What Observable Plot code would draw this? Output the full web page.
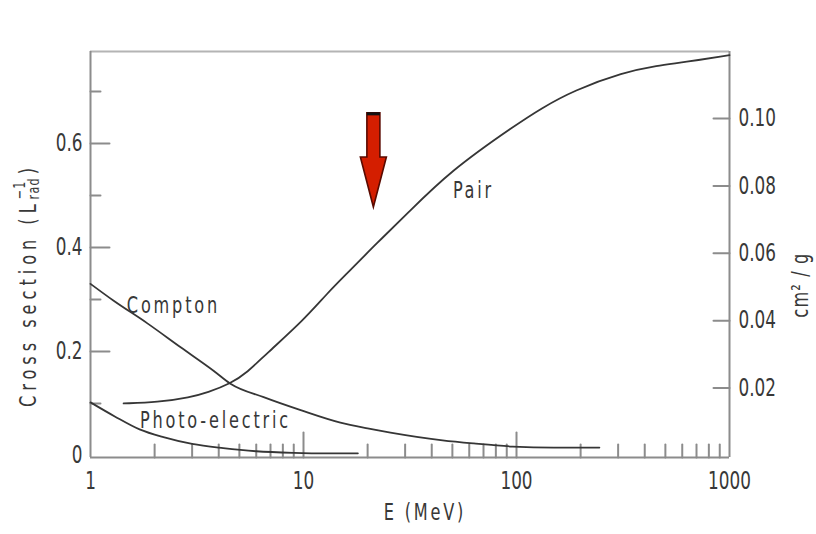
<!DOCTYPE html>
<html>
<head>
<meta charset="utf-8">
<script src="https://cdn.jsdelivr.net/npm/d3@7"></script>
<script src="https://cdn.jsdelivr.net/npm/@observablehq/plot@0.6"></script>
<style>
  html, body { margin: 0; padding: 0; background: #fff; }
</style>
</head>
<body>
<div id="chart"></div>
<script>
// ---- data ----
const pairE   = [1.43, 2.06, 2.95, 3.54, 4.54, 5.46, 6.63, 10, 13, 16.1, 22.3, 30, 49, 101, 130, 185, 318, 459, 608, 1000];
const pairV   = [0.100, 0.102, 0.112, 0.121, 0.138, 0.160, 0.194, 0.260, 0.313, 0.351, 0.410, 0.461, 0.548, 0.638, 0.667, 0.702, 0.737, 0.750, 0.756, 0.770];
const comptonE = [1, 1.28, 1.85, 2.65, 3.78, 4.54, 6.5, 9.7, 14.9, 20, 25.6, 45, 63, 96, 150, 245];
const comptonV = [0.330, 0.298, 0.254, 0.208, 0.163, 0.138, 0.112, 0.087, 0.063, 0.052, 0.044, 0.029, 0.023, 0.017, 0.015, 0.015];
const photoE = [1, 1.3, 1.7, 2.2, 3, 4.2, 6, 9, 13, 18];
const photoV = [0.102, 0.075, 0.050, 0.035, 0.022, 0.014, 0.008, 0.005, 0.004, 0.004];

const curveNames = ["Pair", "Compton", "Photo-electric"];
const labelE = [62.8, 2.45, 3.86];
const labelV = [0.51, 0.288, 0.067];

const xTitle = "E (MeV)";
const rightTitle = "cm\u00B2 / g";

const xDomain = [1, 1000];
const xTickLabels = [1, 10, 100, 1000];
const xMajorTicks = [10, 100];
const xMinorTicks = [2,3,4,5,6,7,8,9, 20,30,40,50,60,70,80,90, 200,300,400,500,600,700,800,900];
const leftTicks = [0, 0.2, 0.4, 0.6];
const leftTickLabels = ["0", "0.2", "0.4", "0.6"];
const leftMinorTicks = [0.1, 0.3, 0.5, 0.7];
const rightTicks = [0.02, 0.04, 0.06, 0.08, 0.10];
const rightTickLabels = ["0.02", "0.04", "0.06", "0.08", "0.10"];
const cm2gPerLrad = 0.1543;   // right-axis units per left-axis unit
const yDomain = [-0.004, 0.777];

const arrowE = [21.4];
const arrowTopV = [0.658];
const arrowNeckV = [0.573];
const arrowTipV = [0.477];

// ---- build ----
const toRows = (E, V) => E.map((e, i) => ({E: e, v: V[i]}));
const pairRows = toRows(pairE, pairV);
const comptonRows = toRows(comptonE, comptonV);
const photoRows = toRows(photoE, photoV);
const labelRows = curveNames.map((n, i) => ({name: n, E: labelE[i], v: labelV[i]}));

const FONT = '"DejaVu Sans Condensed","DejaVu Sans","Liberation Sans",sans-serif';
const SX = 0.78;           // horizontal squeeze of all text (narrow lettering)
const AXIS = "#8c8c8c";
const INK = "#363636";
const TXT = "#383838";
const yMin = yDomain[0], yMax = yDomain[1];

const lineShape = { draw(context, l) { context.moveTo(0, 0); context.lineTo(0, -l); } };

function arrowMark(index, scales) {
  const x = scales.x(arrowE[0]);
  const yTop = scales.y(arrowTopV[0]);
  const yNeck = scales.y(arrowNeckV[0]);
  const yTip = scales.y(arrowTipV[0]);
  const hw = 6.5, hh = 13;
  const d = `M${x - hw},${yTop}L${x + hw},${yTop}L${x + hw},${yNeck}L${x + hh},${yNeck}L${x},${yTip}L${x - hh},${yNeck}L${x - hw},${yNeck}Z`;
  const g = d3.create("svg:g");
  g.append("path").attr("d", d).attr("fill", "#d41e00").attr("stroke", "#5a0a00").attr("stroke-width", 1.6).attr("stroke-linejoin", "miter");
  g.append("line").attr("x1", x - hw).attr("x2", x + hw).attr("y1", yTop + 1).attr("y2", yTop + 1).attr("stroke", "#111").attr("stroke-width", 3);
  return g.node();
}

const chart = Plot.plot({
  width: 816,
  height: 534,
  marginLeft: 90,
  marginRight: 87,
  marginTop: 51,
  marginBottom: 77,
  x: {type: "log", domain: xDomain},
  y: {domain: yDomain},
  style: {fontFamily: FONT, fontSize: "24px", color: TXT, background: "#fff", overflow: "visible"},
  marks: [
    // frame
    Plot.ruleY([yMax], {stroke: "#b4b4b4", strokeWidth: 2}),
    Plot.ruleY([yMin], {stroke: AXIS, strokeWidth: 2}),
    Plot.ruleX(xDomain, {stroke: AXIS, strokeWidth: 2}),
    Plot.axisX(xTickLabels, {tickSize: 0, tickPadding: 14, tickFormat: d => String(d), label: null}),
    Plot.axisY(leftTicks, {anchor: "left", tickSize: 0, tickPadding: 8, tickFormat: (d, i) => leftTickLabels[i], label: null}),
    Plot.axisY(rightTicks.map(r => r / cm2gPerLrad), {anchor: "right", tickSize: 0, tickPadding: 9, tickFormat: (d, i) => rightTickLabels[i], label: null}),
    // inward ticks
    Plot.vector(xMajorTicks, {x: d => d, y: () => yMin, length: 25, rotate: 0, anchor: "start", shape: lineShape, stroke: AXIS, strokeWidth: 2}),
    Plot.vector(xMinorTicks, {x: d => d, y: () => yMin, length: 13, rotate: 0, anchor: "start", shape: lineShape, stroke: AXIS, strokeWidth: 2}),
    Plot.vector(leftTicks.slice(1), {x: () => xDomain[0], y: d => d, length: 19, rotate: 90, anchor: "start", shape: lineShape, stroke: AXIS, strokeWidth: 2}),
    Plot.vector(leftMinorTicks, {x: () => xDomain[0], y: d => d, length: 10, rotate: 90, anchor: "start", shape: lineShape, stroke: AXIS, strokeWidth: 2}),
    Plot.vector(rightTicks, {x: () => xDomain[1], y: d => d / cm2gPerLrad, length: 16, rotate: -90, anchor: "start", shape: lineShape, stroke: AXIS, strokeWidth: 2}),
    // curves
    Plot.line(pairRows, {x: "E", y: "v", curve: "basis", stroke: INK, strokeWidth: 1.8}),
    Plot.line(comptonRows, {x: "E", y: "v", curve: "monotone-x", stroke: INK, strokeWidth: 1.8}),
    Plot.line(photoRows, {x: "E", y: "v", curve: "monotone-x", stroke: INK, strokeWidth: 1.8}),
    Plot.text(labelRows, {x: "E", y: "v", text: "name", fill: TXT, fontSize: 23}),
    // axis titles
    Plot.text([xTitle], {frameAnchor: "bottom", dx: 15, dy: 62, fill: TXT, fontSize: 23}),
    Plot.text([rightTitle], {frameAnchor: "right", dx: 71, dy: -2, rotate: -90, fill: TXT, fontSize: 23}),
    arrowMark
  ]
});

document.getElementById("chart").appendChild(chart);

const svg = d3.select(chart);

// wide letter spacing of the hand-lettered labels
const spaced = new Set([...curveNames, xTitle]);
svg.selectAll("text").filter(function() { return spaced.has(this.textContent); })
  .style("letter-spacing", "3.6px");
svg.selectAll("text").filter(function() { return this.textContent === rightTitle; })
  .style("letter-spacing", "1.5px");

// left axis title with stacked sub/superscript
const t = svg.append("text")
  .attr("transform", "translate(29,285) rotate(-90)")
  .attr("text-anchor", "middle")
  .attr("dominant-baseline", "middle")
  .attr("fill", TXT)
  .style("font-family", FONT)
  .style("font-size", "23px")
  .style("letter-spacing", "6.4px");
t.append("tspan").text("Cross section (L");
const sub = t.append("tspan").attr("dy", 6).style("font-size", "16px").style("letter-spacing", "1.5px").text("rad");
const subLen = sub.node().getComputedTextLength();
t.append("tspan").attr("dx", -subLen).attr("dy", -14).style("font-size", "16px").style("letter-spacing", "1.5px").text("\u22121");
t.append("tspan").attr("dx", 8).attr("dy", 8).text(")");

// narrow lettering: squeeze every text horizontally about its own anchor
svg.selectAll("text").each(function() {
  const el = d3.select(this);
  const x = +el.attr("x") || 0, y = +el.attr("y") || 0;
  const tr = el.attr("transform") || "";
  el.attr("transform", `${tr} translate(${x},${y}) scale(${SX},1) translate(${-x},${-y})`);
});
</script>
</body>
</html>
